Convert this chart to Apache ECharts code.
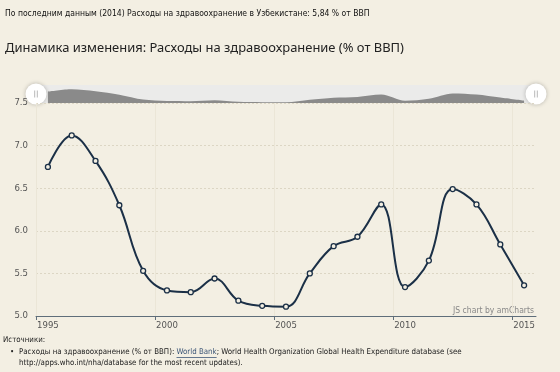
<!DOCTYPE html>
<html><head><meta charset="utf-8">
<script src="https://cdn.jsdelivr.net/npm/echarts@6/dist/echarts.min.js"></script>
<style>html,body{margin:0;padding:0;background:#f3efe3;}#c{width:560px;height:372px;}</style>
</head><body><div id="c"></div>
<script>
// ---- data ----
const years = [1995,1996,1997,1998,1999,2000,2001,2002,2003,2004,2005,2006,2007,2008,2009,2010,2011,2012,2013,2014,2015];
const values = [6.75,7.12,6.82,6.30,5.53,5.30,5.28,5.44,5.18,5.12,5.11,5.50,5.82,5.93,6.31,5.34,5.65,6.49,6.31,5.84,5.36];
const yTicks = [5.0,5.5,6.0,6.5,7.0,7.5];
const xLabelYears = [1995,2000,2005,2010,2015];
const headline = 'По последним данным (2014) Расходы на здравоохранение в Узбекистане: 5,84 % от ВВП';
const chartTitle = 'Динамика изменения: Расходы на здравоохранение (% от ВВП)';
const sourcesLabel = 'Источники:';
const srcPart1 = 'Расходы на здравоохранение (% от ВВП): ';
const srcLink = 'World Bank';
const srcPart3 = '; World Health Organization Global Health Expenditure database (see';
const srcLine2 = 'http://apps.who.int/nha/database for the most recent updates).';
const credit = 'JS chart by amCharts';

// ---- text fitting helpers ----
const mctx = document.createElement('canvas').getContext('2d');
function measure(text, size, family){ mctx.font = size + 'px ' + family; return mctx.measureText(text).width; }
function fit(text, family, target){ return 100 * target / measure(text, 100, family); }

const FAM = '"DejaVu Sans Condensed", "Liberation Sans", Arial, sans-serif';
const TFAM = '"Noto Sans", "Liberation Sans", Arial, sans-serif';

const headSize = fit(headline, FAM, 365);
const titleSize = fit(chartTitle, TFAM, 399);
const srcSize = fit(srcPart1 + srcLink + srcPart3, FAM, 443);
const w1 = measure(srcPart1, srcSize, FAM);
const w2 = measure(srcLink, srcSize, FAM);
const creditSize = fit(credit, FAM, 81);

const points = years.map((y, i) => [y + 0.5, values[i]]);
const line = '#1b3047';
const bg = '#f3efe3';

const chart = echarts.init(document.getElementById('c'), null, {renderer: 'canvas'});
chart.setOption({
  backgroundColor: bg,
  animation: false,
  grid: [
    {left: 36, right: 24, top: 103, bottom: 56},
    {left: 36, right: 24, top: 85, height: 18, show: true, backgroundColor: '#ebebea', borderWidth: 0}
  ],
  xAxis: [
    {
      type: 'value', gridIndex: 0, min: 1995, max: 2016, interval: 1,
      axisLine: {show: true, lineStyle: {color: '#5f6e7a', width: 1}},
      axisTick: {show: true, customValues: xLabelYears, length: 4, lineStyle: {color: '#5f6e7a'}},
      axisLabel: {show: true, customValues: xLabelYears.map(y => y + 0.5), formatter: v => String(Math.floor(v)),
                  color: '#555', fontSize: 9.5, fontFamily: FAM, margin: 5},
      splitLine: {show: true, lineStyle: {color: '#ebe6d7', width: 1}}
    },
    {type: 'value', gridIndex: 1, min: 1995, max: 2016, show: false}
  ],
  yAxis: [
    {
      type: 'value', gridIndex: 0, min: 5, max: 7.5, interval: 0.5,
      axisLine: {show: false}, axisTick: {show: false},
      axisLabel: {color: '#555', fontSize: 9.5, fontFamily: FAM, margin: 8, formatter: v => v.toFixed(1)},
      splitLine: {show: true, lineStyle: {color: '#dcd6c4', type: [2, 2], width: 1}}
    },
    {type: 'value', gridIndex: 1, min: 5.0, max: 7.8, show: false}
  ],
  series: [
    {
      type: 'line', xAxisIndex: 1, yAxisIndex: 1, data: points, silent: true,
      showSymbol: false, smooth: 0.3, lineStyle: {width: 0}, areaStyle: {color: '#8a8a8a', opacity: 1, origin: 'start'}, z: 1
    },
    {
      type: 'line', xAxisIndex: 0, yAxisIndex: 0, data: points, smooth: 0.4,
      symbol: 'circle', symbolSize: 5, showAllSymbol: true,
      lineStyle: {color: line, width: 2},
      itemStyle: {color: bg, borderColor: line, borderWidth: 1.3}, z: 3
    }
  ],
  graphic: [
    {type: 'text', left: 5, top: 14 - headSize * 0.6, style: {text: headline, font: headSize.toFixed(2) + 'px ' + FAM, fill: '#111'}},
    {type: 'text', left: 5, top: 50 - titleSize * 0.65, style: {text: chartTitle, font: titleSize.toFixed(2) + 'px ' + TFAM, fill: '#222'}},
    {type: 'text', right: 26, top: 311 - creditSize * 0.6, style: {text: credit, font: creditSize.toFixed(2) + 'px ' + FAM, fill: '#888'}},
    {type: 'text', left: 3, top: 341 - srcSize * 0.6, style: {text: sourcesLabel, font: srcSize.toFixed(2) + 'px ' + FAM, fill: '#222'}},
    {type: 'text', left: 10, top: 353 - srcSize * 0.6, style: {text: '•', font: srcSize.toFixed(2) + 'px ' + FAM, fill: '#222'}},
    {type: 'text', left: 19, top: 353 - srcSize * 0.6, style: {text: srcPart1, font: srcSize.toFixed(2) + 'px ' + FAM, fill: '#222'}},
    {type: 'text', left: 19 + w1, top: 353 - srcSize * 0.6, style: {text: srcLink, font: srcSize.toFixed(2) + 'px ' + FAM, fill: '#3f5878'}},
    {type: 'line', shape: {x1: 19 + w1, y1: 357.5, x2: 19 + w1 + w2, y2: 357.5}, style: {stroke: '#3f5878', lineWidth: 0.8}},
    {type: 'text', left: 19 + w1 + w2, top: 353 - srcSize * 0.6, style: {text: srcPart3, font: srcSize.toFixed(2) + 'px ' + FAM, fill: '#222'}},
    {type: 'text', left: 19, top: 364 - srcSize * 0.6, style: {text: srcLine2, font: srcSize.toFixed(2) + 'px ' + FAM, fill: '#222'}},
    // scrollbar grips
    {type: 'group', x: 36, y: 94, z: 100, children: [
      {type: 'circle', shape: {cx: 0, cy: 0, r: 10.5}, style: {fill: '#fff', shadowBlur: 4, shadowColor: 'rgba(0,0,0,0.25)'}},
      {type: 'line', shape: {x1: -1.3, y1: -3.5, x2: -1.3, y2: 3.5}, style: {stroke: '#b8b8b8', lineWidth: 1}},
      {type: 'line', shape: {x1: 1.3, y1: -3.5, x2: 1.3, y2: 3.5}, style: {stroke: '#b8b8b8', lineWidth: 1}}
    ]},
    {type: 'group', x: 536, y: 94, z: 100, children: [
      {type: 'circle', shape: {cx: 0, cy: 0, r: 10.5}, style: {fill: '#fff', shadowBlur: 4, shadowColor: 'rgba(0,0,0,0.25)'}},
      {type: 'line', shape: {x1: -1.3, y1: -3.5, x2: -1.3, y2: 3.5}, style: {stroke: '#b8b8b8', lineWidth: 1}},
      {type: 'line', shape: {x1: 1.3, y1: -3.5, x2: 1.3, y2: 3.5}, style: {stroke: '#b8b8b8', lineWidth: 1}}
    ]}
  ]
});
</script>
</body></html>
